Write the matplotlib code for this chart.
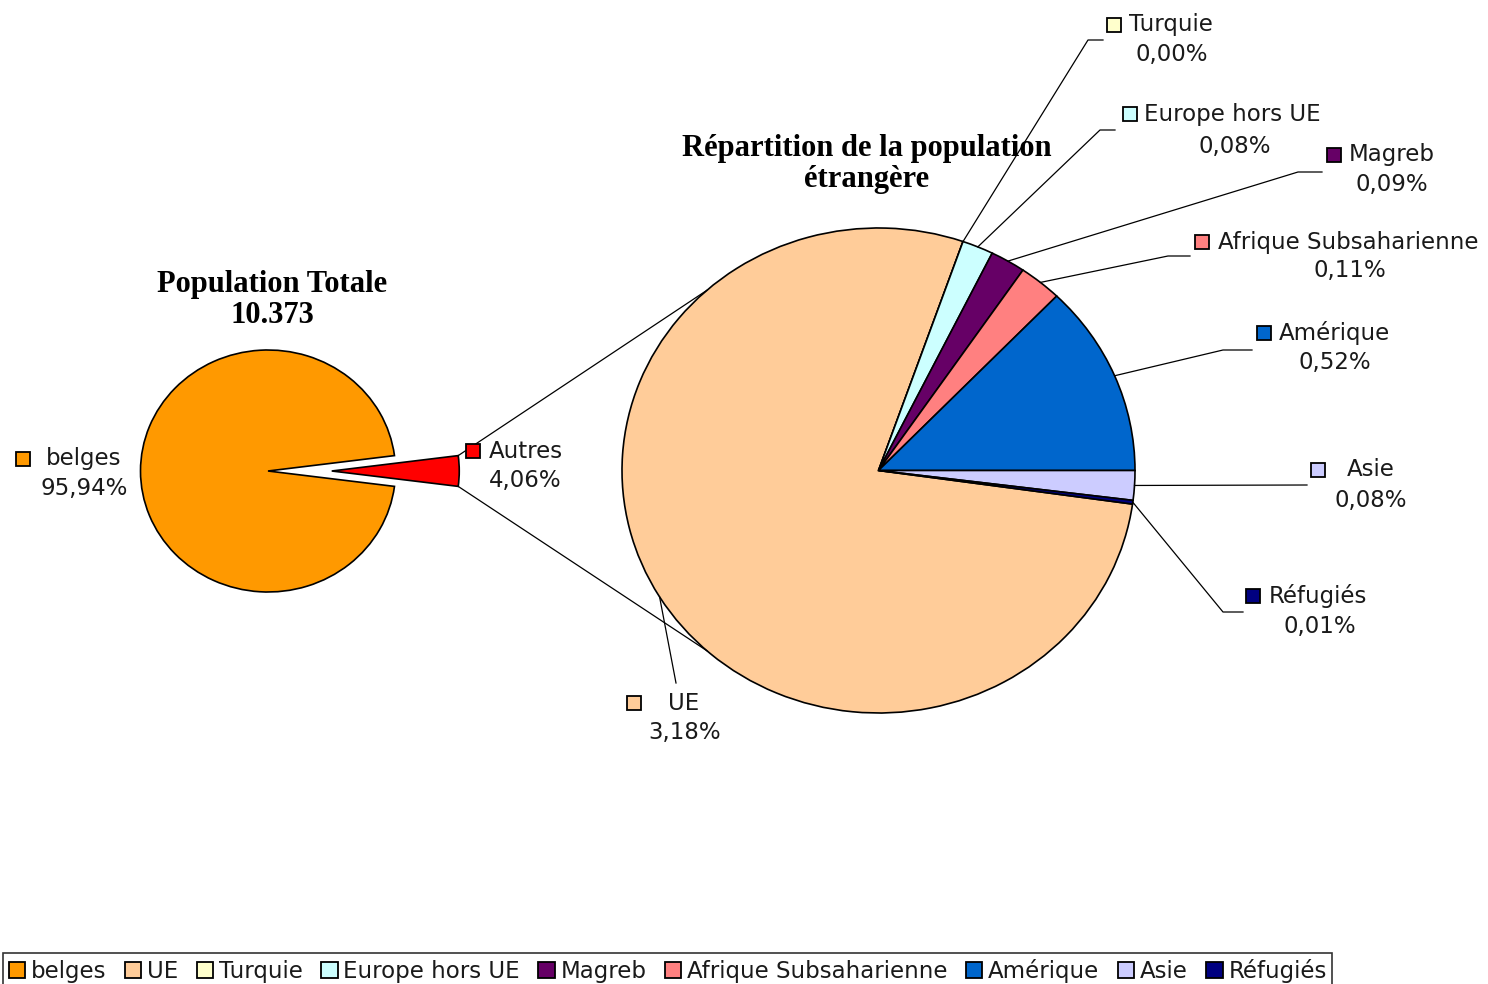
import numpy as np
import matplotlib
matplotlib.use("Agg")
import matplotlib.pyplot as plt
from matplotlib.patches import Patch

# --- data ---
total_label = "10.373"
main_labels = ["belges", "Autres"]
main_values = [95.94, 4.06]
main_colors = ["#FF9900", "#FF0000"]

sub_labels = ["UE", "Turquie", "Europe hors UE", "Magreb", "Afrique Subsaharienne",
              "Amérique", "Asie", "Réfugiés"]
sub_values = [3.18, 0.00, 0.08, 0.09, 0.11, 0.52, 0.08, 0.01]
sub_colors = ["#FFCC99", "#FFFFCC", "#CCFFFF", "#660066", "#FF8080",
              "#0066CC", "#CCCCFF", "#000080"]

W, H = 1488, 984
FS = 16.5

fig = plt.figure(figsize=(W / 100, H / 100), dpi=100)


def pie_axes(cx, cy, rx, ry, pad=1.7):
    # axes placed in pixel coordinates, unit circle -> ellipse rx, ry
    ax = fig.add_axes([(cx - rx * pad) / W, 1 - (cy + ry * pad) / H,
                       2 * rx * pad / W, 2 * ry * pad / H])
    return ax, pad


def pct(v):
    return f"{v:.2f}%".replace(".", ",")


# left pie
L = dict(cx=268, cy=471, rx=127.5, ry=121)
explode_autres = 0.5
axl, pad = pie_axes(**L)
autres_frac = main_values[1] / sum(main_values)
axl.pie(main_values, colors=main_colors, startangle=autres_frac * 180,
        explode=[0, explode_autres],
        wedgeprops=dict(edgecolor="black", linewidth=1.2))
axl.set_aspect("auto")
axl.set_xlim(-pad, pad)
axl.set_ylim(-pad, pad)
axl.axis("off")

# right pie
R = dict(cx=878.5, cy=470.5, rx=256.5, ry=242.5)
axr, pad = pie_axes(**R)
sub_total = sum(sub_values)
start_r = -360 * (sub_values[-1] + sub_values[-2]) / sub_total
wedges, _ = axr.pie(sub_values, colors=sub_colors, startangle=start_r,
                    counterclock=False,
                    wedgeprops=dict(edgecolor="black", linewidth=1.2))
axr.set_aspect("auto")
axr.set_xlim(-pad, pad)
axr.set_ylim(-pad, pad)
axr.axis("off")

# overlay in pixel coordinates
ov = fig.add_axes([0, 0, 1, 1])
ov.set_xlim(0, W)
ov.set_ylim(H, 0)
ov.axis("off")


def on_ellipse(P, ang, off=0.0):
    a = np.deg2rad(ang)
    return P["cx"] + P["rx"] * (np.cos(a) + off), P["cy"] - P["ry"] * np.sin(a)


# connector lines between Autres wedge and right pie
half = autres_frac * 180
for s, ang_r in [(1, 132), (-1, -132)]:
    x0, y0 = on_ellipse(L, s * half, off=explode_autres)
    x1, y1 = on_ellipse(R, ang_r)
    ov.plot([x0, x1], [y0, y1], color="black", lw=0.9)

# titles
ov.text(272, 300, "Population Totale\n" + total_label, ha="center", va="center",
        family="Liberation Serif", weight="bold", fontsize=22, linespacing=1.1)
ov.text(867, 164, "Répartition de la population\nétrangère", ha="center",
        va="center", family="Liberation Serif", weight="bold", fontsize=22,
        linespacing=1.1)

# label layout: square centre, name x, pct centre
layout = {
    "belges": (23, 459, 46, 84, 489),
    "Autres": (473, 451, 489, 525, 481),
    "UE": (634, 703, 668, 685, 733),
    "Turquie": (1114, 25, 1129, 1172, 54),
    "Europe hors UE": (1130, 114, 1144, 1235, 146),
    "Magreb": (1334, 155, 1349, 1392, 185),
    "Afrique Subsaharienne": (1202, 242, 1218, 1350, 271),
    "Amérique": (1264, 333, 1279, 1335, 362),
    "Asie": (1318, 470, 1347, 1371, 500),
    "Réfugiés": (1253, 596, 1269, 1320, 627),
}
# leader line waypoints (after the start on the wedge)
leaders = {
    "UE": [(676, 683)],
    "Turquie": [(1088, 40), (1103, 40)],
    "Europe hors UE": [(1100, 130), (1115, 130)],
    "Magreb": [(1298, 172), (1322, 172)],
    "Afrique Subsaharienne": [(1168, 256), (1190, 256)],
    "Amérique": [(1223, 350), (1252, 350)],
    "Asie": [(1307, 485)],
    "Réfugiés": [(1223, 612), (1243, 612)],
}

all_labels = main_labels + sub_labels
all_values = main_values + sub_values
all_colors = main_colors + sub_colors
for lab, val, col in zip(all_labels, all_values, all_colors):
    sx, sy, nx, px, py = layout[lab]
    ov.plot(sx, sy, marker="s", ms=10.5, mfc=col, mec="black", mew=1.3)
    ov.text(nx, sy, lab, ha="left", va="center", fontsize=FS, color="#1a1a1a")
    ov.text(px, py, pct(val), ha="center", va="center", fontsize=FS, color="#1a1a1a")

# leader lines from wedge mid angles
for w, lab in zip(wedges, sub_labels):
    mid = (w.theta1 + w.theta2) / 2
    x0, y0 = on_ellipse(R, mid)
    pts = [(x0, y0)] + leaders[lab]
    ov.plot([p[0] for p in pts], [p[1] for p in pts], color="black", lw=0.9)

# legend
handles = [Patch(facecolor=c, edgecolor="black", linewidth=1.3)
           for c in main_colors[:1] + sub_colors]
leg = fig.legend(handles, main_labels[:1] + sub_labels, loc="upper left",
                 bbox_to_anchor=(3 / W, 1 - 953 / H), ncol=9, fontsize=FS,
                 frameon=True, fancybox=False, borderaxespad=0,
                 handlelength=0.72, handleheight=0.72, handletextpad=0.25,
                 columnspacing=0.8, borderpad=0.25)
leg.get_frame().set_edgecolor("black")
leg.get_frame().set_linewidth(1.2)
for t in leg.get_texts():
    t.set_color("#1a1a1a")

fig.savefig("out.png", dpi=100)
